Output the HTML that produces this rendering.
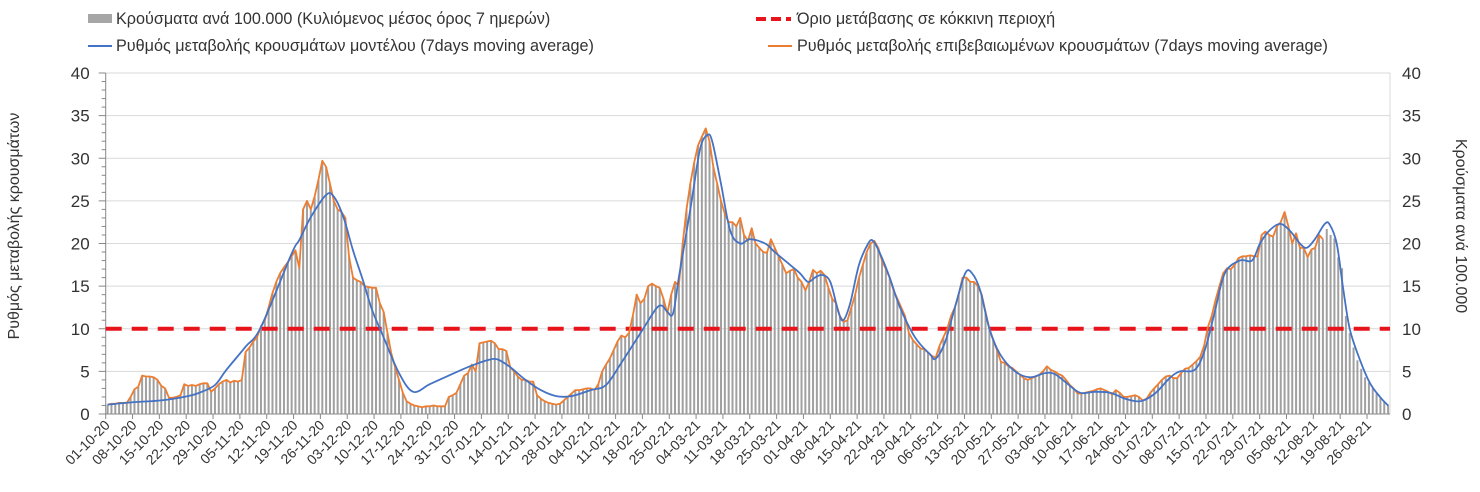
<!DOCTYPE html>
<html><head><meta charset="utf-8">
<style>
html,body{margin:0;padding:0;background:#fff;}
svg{display:block;font-family:"Liberation Sans","DejaVu Sans",sans-serif;}
</style></head>
<body>
<svg id="chart" width="1480" height="492" viewBox="0 0 1480 492">
  <g id="grid"></g>
  <g id="bars"></g>
  <g id="axes"></g>
  <g id="lines"></g>
  <g>
    <g>
      <rect x="88" y="14" width="24" height="9" fill="#a6a6a6"/>
      <text x="116" y="24" font-size="16.2" fill="#333">Κρούσματα ανά 100.000 (Κυλιόμενος μέσος όρος 7 ημερών)</text>
    </g>
    <g>
      <line x1="756" y1="19" x2="791" y2="19" stroke="#e8141b" stroke-width="4" stroke-dasharray="10,5"/>
      <text x="797" y="24" font-size="16.2" fill="#333">Όριο μετάβασης σε κόκκινη περιοχή</text>
    </g>
    <g>
      <line x1="88" y1="46" x2="112" y2="46" stroke="#4472c4" stroke-width="2"/>
      <text x="116" y="51" font-size="16.2" fill="#333">Ρυθμός μεταβολής κρουσμάτων μοντέλου (7days moving average)</text>
    </g>
    <g>
      <line x1="768" y1="46" x2="792" y2="46" stroke="#ed7d31" stroke-width="2"/>
      <text x="797" y="51" font-size="16.2" fill="#333">Ρυθμός μεταβολής επιβεβαιωμένων κρουσμάτων (7days moving average)</text>
    </g>
  </g>
  <text transform="translate(19,226) rotate(-90)" text-anchor="middle" font-size="16" fill="#333">Ρυθμός μεταβολής κρουσμάτων</text>
  <text transform="translate(1456,226) rotate(90)" text-anchor="middle" font-size="16" fill="#333">Κρούσματα ανά 100.000</text>
</svg>
<script>
const tickLabels = ["01-10-20","08-10-20","15-10-20","22-10-20","29-10-20","05-11-20","12-11-20","19-11-20","26-11-20","03-12-20","10-12-20","17-12-20","24-12-20","31-12-20","07-01-21","14-01-21","21-01-21","28-01-21","04-02-21","11-02-21","18-02-21","25-02-21","04-03-21","11-03-21","18-03-21","25-03-21","01-04-21","08-04-21","15-04-21","22-04-21","29-04-21","06-05-21","13-05-21","20-05-21","27-05-21","03-06-21","10-06-21","17-06-21","24-06-21","01-07-21","08-07-21","15-07-21","22-07-21","29-07-21","05-08-21","12-08-21","19-08-21","26-08-21"];
const yTicks = [0,5,10,15,20,25,30,35,40];
const threshold = 10;
const cases = [
1.1,1.2,1.2,1.3,1.3,1.3,2.0,
2.9,3.2,4.5,4.4,4.4,4.3,4.0,
3.3,3.0,1.9,1.9,2.0,2.2,3.5,
3.3,3.4,3.3,3.5,3.6,3.6,2.6,
3.0,3.5,3.8,4.0,3.7,3.9,3.8,
4.0,7.3,7.8,8.5,9.0,10.3,11.0,
12.5,14.2,15.5,16.5,17.2,17.8,18.5,
19.2,17.1,24.0,25.0,24.0,25.5,27.5,
29.7,29.0,27.0,25.0,24.0,23.7,23.0,
18.4,16.0,15.7,15.5,15.0,14.9,14.8,
14.8,13.0,12.0,9.5,7.1,5.5,4.0,
2.5,1.5,1.2,1.0,0.9,0.8,0.9,
0.9,1.0,0.9,0.9,0.9,2.0,2.2,
2.5,3.5,4.5,4.8,5.8,5.0,8.3,
8.4,8.5,8.6,8.3,7.6,7.6,7.4,
5.5,5.0,4.4,4.0,4.0,3.8,3.8,
2.2,1.8,1.5,1.3,1.2,1.1,1.2,
1.6,2.0,2.4,2.8,2.8,2.9,3.0,
3.0,2.8,3.5,5.0,5.8,6.5,7.5,
8.5,9.2,9.0,9.5,11.5,14.0,13.0,
13.5,15.0,15.3,15.0,14.8,13.5,11.8,
14.0,15.5,15.0,20.0,24.0,27.0,29.5,
31.5,32.5,33.5,32.0,29.0,27.0,25.0,
23.5,22.5,22.5,22.0,23.0,21.0,20.3,
21.8,20.0,19.5,19.0,18.9,20.5,19.5,
18.5,17.5,16.5,16.8,17.0,16.0,15.5,
14.5,15.5,16.9,16.5,16.8,16.3,14.8,
13.5,13.0,11.5,10.8,11.0,12.5,14.0,
16.0,17.5,19.0,20.0,20.3,19.5,18.0,
17.0,16.0,14.5,13.5,12.5,11.5,9.5,
8.7,8.2,7.7,7.6,7.2,6.8,6.6,
8.0,9.0,10.0,11.5,12.5,14.0,16.0,
16.0,15.5,15.5,15.0,14.0,12.0,10.0,
8.7,7.5,6.1,6.0,5.6,5.4,5.0,
4.6,4.2,4.0,4.2,4.4,4.6,5.0,
5.6,5.2,5.0,4.7,4.5,4.0,3.4,
3.0,2.4,2.4,2.5,2.6,2.7,2.9,
3.0,2.8,2.6,2.3,2.8,2.5,2.0,
2.0,2.1,2.2,2.0,1.6,1.8,2.5,
3.0,3.5,4.0,4.4,4.5,4.2,4.2,
4.8,5.3,5.4,5.8,6.2,6.7,8.0,
10.2,11.5,13.4,15.0,16.5,17.1,17.0,
17.5,18.3,18.5,18.5,18.6,18.5,18.5,
21.0,21.4,21.0,20.8,22.0,22.5,23.7,
22.0,20.0,21.2,19.5,19.5,18.4,19.3,
19.5,21.0,20.5,21.7,21.0,20.6,18.4,
17.1,11.5,9.5,7.8,6.3,5.3,4.3,
3.7,3.0,2.4,1.9,1.4,1.1];
const confirmedDays = 318;
const modelDays = [0,7,14,21,24,28,31,36,40,48,50,53,57,59,61.5,64,66.6,69,72,76,79.7,84,89,94,99,101.7,105,109,113,117,121,126,130,134,139,143,144.6,146,147.5,149,152,154.5,156.4,157.7,160,162.4,165,167.6,171.5,174,178,180.6,182.7,184.5,186.4,188.5,190.6,191.9,193.7,196,198.4,199.7,201.5,204,206.7,210.6,214.5,216,218.5,221,223.7,225.5,227.6,230,232.8,236.7,240.6,244.5,247,249.7,253.6,257.5,261.5,265.4,269.4,273.2,277,279.7,283.6,286.2,288.8,291.4,295.3,298.5,300.6,303,305.8,308.4,311,312.8,314.9,317.5,318.8,320.6,322.2,324,326.7,329.3,331.9,334];
const modelValues = [1.1,1.4,1.6,2.1,2.5,3.4,5.2,7.9,10.2,18.8,20.4,23.1,25.7,25.5,23.1,19.2,15.7,12.2,9.0,4.8,2.6,3.5,4.5,5.5,6.3,6.4,5.5,4.0,2.8,2.1,2.1,2.8,3.4,6.0,9.5,12.3,12.7,12.0,11.8,16.0,24.0,31.0,32.7,32.0,27.0,21.5,20.0,20.5,20.0,19.0,17.5,16.5,15.5,16.0,16.3,15.5,12.0,11.0,13.0,17.5,20.0,20.3,18.8,16.0,12.5,9.0,7.0,6.5,8.5,12.5,16.5,16.5,14.5,10.0,7.0,5.0,4.3,4.8,4.7,3.8,2.5,2.6,2.5,1.8,1.5,2.4,4.2,5.0,5.2,7.5,12.0,16.5,18.0,18.0,20.0,21.5,22.3,21.5,20.0,19.5,20.5,22.3,22.2,20.0,15.0,10.0,6.3,3.6,2.0,1.0];

const NS = "http://www.w3.org/2000/svg";
const X0 = 105.7, X1 = 1390, Y0 = 414, YTOP = 73, NDAYS = 335, YMAX = 40;
const dayW = (X1 - X0) / NDAYS;
function xScale(d){ return X0 + dayW * (d + 0.5); }
function tickX(d){ return X0 + dayW * d; }
function yScale(v){ return Y0 - (Y0 - YTOP) * v / YMAX; }
function mk(tag, attrs, parent){ const e = document.createElementNS(NS, tag); for (const k in attrs) e.setAttribute(k, attrs[k]); parent.appendChild(e); return e; }

const grid = document.getElementById('grid'), barsG = document.getElementById('bars'), axes = document.getElementById('axes'), lines = document.getElementById('lines');

yTicks.forEach(v => {
  if (v > 0) {
    const g = mk('line', {x1:X0, x2:X1, y1:yScale(v), y2:yScale(v), stroke:'#d9d9d9', 'stroke-width':1}, grid);
    
    
  }
  const tl = mk('text', {x:X0 - 16, y:yScale(v) + 6, 'text-anchor':'end', 'font-size':17, fill:'#333'}, axes);
  tl.textContent = v;
  
  
  const tr = mk('text', {x:X1 + 12, y:yScale(v) + 6, 'text-anchor':'start', 'font-size':17, fill:'#333'}, axes);
  tr.textContent = v;
  
  
});
for (let v = 0; v <= YMAX; v++) {
  mk('line', {x1:X0 - (v % 5 === 0 ? 7 : 4), x2:X0, y1:yScale(v), y2:yScale(v), stroke:'#888', 'stroke-width':1}, axes);
}
const la = mk('line', {x1:X0, x2:X0, y1:YTOP, y2:Y0, stroke:'#888', 'stroke-width':1}, axes);


const ra = mk('line', {x1:X1, x2:X1, y1:YTOP, y2:Y0, stroke:'#d9d9d9', 'stroke-width':1}, axes);



cases.forEach((v, i) => {
  const b = mk('rect', {x:xScale(i) - 1, y:yScale(v), width:2, height:Y0 - yScale(v), fill:'#a0a0a0'}, barsG);
  
  
});

const xa = mk('line', {x1:X0, x2:X1, y1:Y0, y2:Y0, stroke:'#888', 'stroke-width':1}, axes);


tickLabels.forEach((t, k) => {
  const x = tickX(k * 7);
  mk('line', {x1:x, x2:x, y1:Y0, y2:Y0 + 5, stroke:'#888', 'stroke-width':1}, axes);
  const tx = mk('text', {'text-anchor':'end', 'font-size':14, fill:'#333', transform:'translate(' + (x + 5) + ',' + (Y0 + 12) + ') rotate(-45)'}, axes);
  tx.textContent = t;
  
  
});

const th = mk('line', {x1:X0, x2:X1, y1:yScale(threshold), y2:yScale(threshold), stroke:'#e8141b', 'stroke-width':4, 'stroke-dasharray':'16,10'}, lines);



let op = '';
for (let i = 0; i < confirmedDays; i++) op += (i ? 'L' : 'M') + xScale(i).toFixed(1) + ',' + yScale(cases[i]).toFixed(1);
const ol = mk('path', {d:op, fill:'none', stroke:'#ed7d31', 'stroke-width':1.8, 'stroke-linejoin':'round'}, lines);



const pts = modelDays.map((d, i) => [xScale(d), yScale(modelValues[i])]);
let bp = 'M' + pts[0][0].toFixed(1) + ',' + pts[0][1].toFixed(1);
for (let i = 0; i < pts.length - 1; i++) {
  const p0 = pts[Math.max(0, i - 1)], p1 = pts[i], p2 = pts[i + 1], p3 = pts[Math.min(pts.length - 1, i + 2)];
  const t = 0.5 / 3;
  const c1 = [p1[0] + (p2[0] - p0[0]) * t, p1[1] + (p2[1] - p0[1]) * t];
  const c2 = [p2[0] - (p3[0] - p1[0]) * t, p2[1] - (p3[1] - p1[1]) * t];
  bp += 'C' + c1[0].toFixed(1) + ',' + c1[1].toFixed(1) + ' ' + c2[0].toFixed(1) + ',' + c2[1].toFixed(1) + ' ' + p2[0].toFixed(1) + ',' + p2[1].toFixed(1);
}
const bl = mk('path', {d:bp, fill:'none', stroke:'#4472c4', 'stroke-width':1.8}, lines);


</script>
</body></html>
